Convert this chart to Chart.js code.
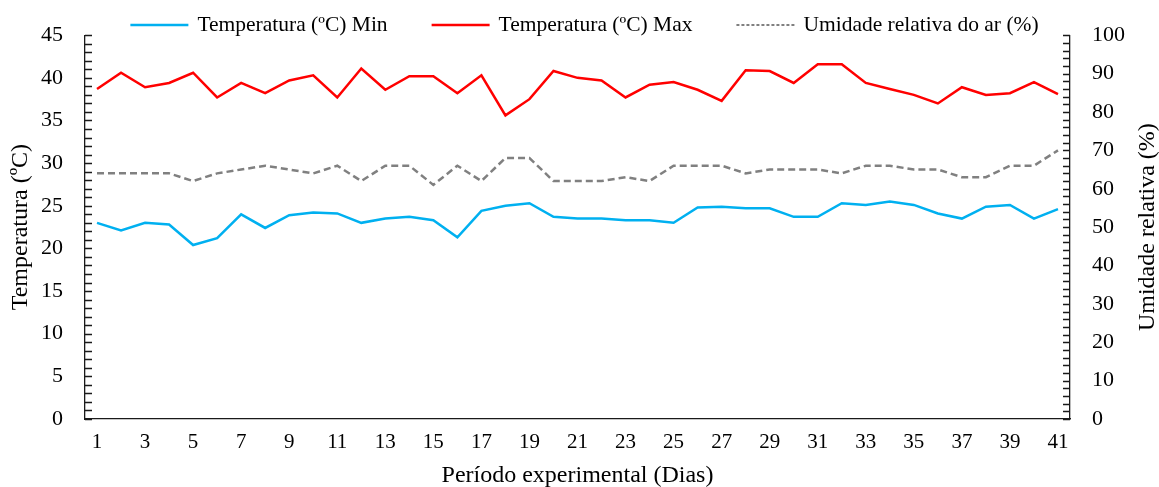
<!DOCTYPE html>
<html>
<head>
<meta charset="utf-8">
<script src="https://cdn.jsdelivr.net/npm/chart.js@4.4.0/dist/chart.umd.min.js"></script>
<style>
  body { margin: 0; background: #fff; }
  #wrap { width: 1159px; height: 487px; }
</style>
</head>
<body>
<div id="wrap"><canvas id="chart"></canvas></div>
<script>
const days = [1, 2, 3, 4, 5, 6, 7, 8, 9, 10, 11, 12, 13, 14, 15, 16, 17, 18, 19, 20,
  21, 22, 23, 24, 25, 26, 27, 28, 29, 30, 31, 32, 33, 34, 35, 36, 37, 38, 39, 40, 41]

const tempMin = [23.0, 22.1, 23.0, 22.8, 20.4, 21.2, 24.0, 22.4, 23.9, 24.2, 24.1, 23.0, 23.5, 23.7,
  23.3, 21.3, 24.4, 25.0, 25.3, 23.7, 23.5, 23.5, 23.3, 23.3, 23.0, 24.8, 24.9, 24.7, 24.7, 23.7,
  23.7, 25.3, 25.1, 25.5, 25.1, 24.1, 23.5, 24.9, 25.1, 23.5, 24.6]

const tempMax = [38.7, 40.6, 38.9, 39.4, 40.6, 37.7, 39.4, 38.2, 39.7, 40.3, 37.7, 41.1, 38.6, 40.2,
  40.2, 38.2, 40.3, 35.6, 37.5, 40.8, 40.0, 39.7, 37.7, 39.2, 39.5, 38.6, 37.3, 40.9, 40.8, 39.4,
  41.6, 41.6, 39.4, 38.7, 38.0, 37.0, 38.9, 38.0, 38.2, 39.5, 38.1]

const humidity = [64, 64, 64, 64, 62, 64, 65, 66, 65, 64, 66, 62, 66, 66, 61, 66, 62, 68, 68, 62,
  62, 62, 63, 62, 66, 66, 66, 64, 65, 65, 65, 64, 66, 66, 65, 65, 63, 63, 66, 66, 70]

const tempTicks = { min: 0, max: 45, step: 5, minor: 1 }
const humTicks = { min: 0, max: 100, step: 10, minor: 2 }

const serif = '"Liberation Serif", "Times New Roman", serif'
const axisColor = '#1a1a1a'

Chart.defaults.font.family = serif
Chart.defaults.color = '#000'

// small inward tick marks on both value axes, plus the right title read bottom-to-top
const axisExtras = {
  id: 'axisExtras',
  afterDraw(chart) {
    const ctx = chart.ctx
    const yl = chart.scales.y
    const yr = chart.scales.y1
    ctx.save()
    ctx.strokeStyle = axisColor
    ctx.lineWidth = 1.3
    ctx.beginPath()
    for (let v = tempTicks.min; v <= tempTicks.max; v += tempTicks.minor) {
      const py = Math.round(yl.getPixelForValue(v)) + 0.5
      ctx.moveTo(yl.right, py)
      ctx.lineTo(yl.right + 7, py)
    }
    for (let v = humTicks.min; v <= humTicks.max; v += humTicks.minor) {
      const py = Math.round(yr.getPixelForValue(v)) + 0.5
      ctx.moveTo(yr.left, py)
      ctx.lineTo(yr.left - 7, py)
    }
    ctx.stroke()

    ctx.fillStyle = '#000'
    ctx.font = '24px ' + serif
    ctx.textAlign = 'center'
    ctx.textBaseline = 'middle'
    ctx.translate(chart.width - 11, (chart.chartArea.top + chart.chartArea.bottom) / 2)
    ctx.rotate(-Math.PI / 2)
    ctx.fillText('Umidade relativa (%)', 0, 0)
    ctx.restore()
  }
}

// legend drawn as plain line samples, as in the original
const lineLegend = {
  id: 'lineLegend',
  afterDraw(chart) {
    const ctx = chart.ctx
    const sets = chart.data.datasets
    const lineLen = 58, textGap = 9, itemGap = 44, y = 25
    ctx.save()
    ctx.font = '21.5px ' + serif
    const widths = sets.map(ds => ctx.measureText(ds.label).width)
    const total = widths.reduce((a, w) => a + lineLen + textGap + w, 0) + itemGap * (sets.length - 1)
    let x = chart.width / 2 + 5 - total / 2
    sets.forEach((ds, i) => {
      ctx.strokeStyle = ds.borderColor
      ctx.lineWidth = ds.borderDash ? 2 : 2.5
      ctx.setLineDash(ds.borderDash ? [3, 2] : [])
      ctx.beginPath()
      ctx.moveTo(x, y)
      ctx.lineTo(x + lineLen, y)
      ctx.stroke()
      ctx.fillStyle = '#000'
      ctx.textBaseline = 'middle'
      ctx.fillText(ds.label, x + lineLen + textGap, y)
      x += lineLen + textGap + widths[i] + itemGap
    })
    ctx.restore()
  }
}

new Chart(document.getElementById('chart'), {
  type: 'line',
  data: {
    labels: days,
    datasets: [{
      label: 'Temperatura (ºC) Min',
      data: tempMin,
      yAxisID: 'y',
      borderColor: '#00b0f0',
      borderWidth: 2.5
    }, {
      label: 'Temperatura (ºC) Max',
      data: tempMax,
      yAxisID: 'y',
      borderColor: '#ff0000',
      borderWidth: 2.5
    }, {
      label: 'Umidade relativa do ar (%)',
      data: humidity,
      yAxisID: 'y1',
      borderColor: '#808080',
      borderWidth: 2.5,
      borderDash: [7, 4]
    }]
  },
  options: {
    responsive: true,
    maintainAspectRatio: false,
    animation: false,
    layout: { padding: { top: 34, left: 0, right: 0, bottom: 0 } },
    elements: {
      point: { radius: 0 },
      line: { tension: 0, fill: false }
    },
    plugins: {
      legend: { display: false },
      tooltip: { enabled: false }
    },
    scales: {
      x: {
        offset: true,
        grid: { display: false, drawTicks: false },
        border: { color: axisColor, width: 1.3 },
        ticks: {
          autoSkip: false,
          maxRotation: 0,
          padding: 11,
          font: { size: 21 },
          callback: function (value, index) {
            return index % 2 === 0 ? this.getLabelForValue(value) : ''
          }
        },
        title: {
          display: true,
          text: 'Período experimental (Dias)',
          font: { size: 24, lineHeight: 0.9 },
          padding: { top: 0, bottom: 0 }
        },
        afterFit: scale => { scale.height = 68 }
      },
      y: {
        position: 'left',
        min: tempTicks.min,
        max: tempTicks.max,
        grid: { display: false, drawTicks: false },
        border: { color: axisColor, width: 1.3 },
        ticks: { stepSize: tempTicks.step, padding: 22, font: { size: 22 } },
        title: {
          display: true,
          text: 'Temperatura (ºC)',
          font: { size: 24, lineHeight: 1.2 },
          padding: { top: 6, bottom: 0 }
        },
        afterFit: scale => { scale.width = 85 }
      },
      y1: {
        position: 'right',
        min: humTicks.min,
        max: humTicks.max,
        grid: { display: false, drawTicks: false },
        border: { color: axisColor, width: 1.3 },
        ticks: { stepSize: humTicks.step, padding: 22, font: { size: 22 } },
        afterFit: scale => { scale.width = 89 }
      }
    }
  },
  plugins: [axisExtras, lineLegend]
})
</script>
</body>
</html>
